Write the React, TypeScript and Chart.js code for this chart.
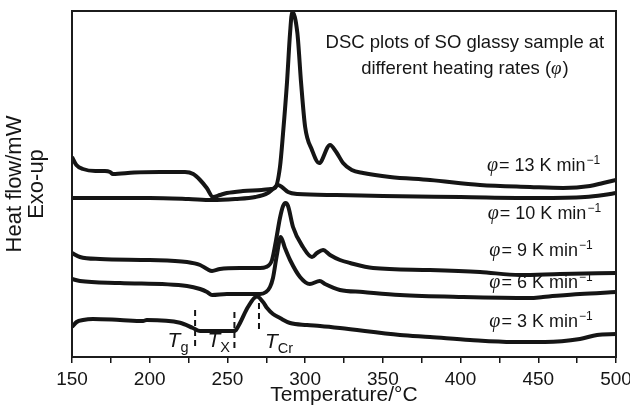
import React, { useEffect, useRef } from "react";
import { Chart, registerables } from "chart.js";

Chart.register(...registerables);

const SANS = "'Liberation Sans', Arial, Helvetica, sans-serif";
const SERIF = "'Liberation Serif', 'Times New Roman', serif";
const INK = "#151515";

// x axis
const xMin = 150;
const xMax = 500;
const xStep = 25;
const xLabelStep = 50;
// y axis (arbitrary heat-flow units, exo up)
const yMin = 0;
const yMax = 346;

// φ = 13 K/min
const t13 = [150, 152.8, 157, 165, 171.2, 174.5, 176.3, 190, 206.6, 222.7, 228, 232.4, 236.7, 240.7, 245.2, 249.6, 260, 272, 278, 280.6, 283.8, 285.8, 288.3, 290.3, 291.7, 295, 297.4, 300, 304.4, 309, 316, 320, 324.4, 330, 337.3, 354.6, 380.4, 412.5, 444.7, 466, 483.3, 491.7, 500];
const hf13 = [200, 192, 188, 186, 186, 185, 183, 184.5, 185, 185, 183, 177, 169, 160, 162, 164, 166, 167, 168, 169, 190, 224, 274, 324, 345, 324, 274, 230, 207, 194, 212, 205, 194, 187, 184, 180, 177, 172, 170, 169, 171, 174, 177];

// φ = 10 K/min
const t10 = [150, 170, 200, 225, 240, 255, 268, 276, 280, 282.6, 285, 289, 295, 320, 350, 400, 450, 480, 492, 500];
const hf10 = [159, 159, 159, 158, 157, 158, 160, 164, 169, 172, 170, 165, 163, 162, 161, 160, 159, 160, 162, 164];

// φ = 9 K/min
const t9 = [150, 155.1, 168, 200, 224, 232.4, 236.9, 240.1, 245.2, 258, 271, 274.8, 278.7, 281.3, 283.8, 285.8, 287.4, 289, 292.2, 298.6, 304.4, 307.6, 311.5, 316, 322.4, 328.9, 343.7, 380.3, 412.5, 438.2, 464, 500];
const hf9 = [104, 100, 98, 97, 95, 92, 88, 86, 88, 89, 89, 90, 97, 117, 139, 151, 154, 151, 130, 110, 100, 104, 107, 102, 97, 94, 89, 87, 85, 82, 83, 84];

// φ = 6 K/min
const t6 = [150, 155.1, 180.9, 224, 232.4, 236.9, 240.1, 249.7, 271, 274.8, 277.4, 279.3, 281.7, 284.3, 287, 290.3, 296.7, 303, 309.4, 312.8, 322.4, 337.2, 361, 401.6, 444.7, 453, 476.8, 500];
const hf6 = [78, 76, 74, 71, 68, 65, 62, 63, 63, 65, 70, 79, 101, 120, 109, 97, 80, 73, 76, 73, 67, 65, 62, 60, 59, 60, 63, 65];

// φ = 3 K/min
const t3 = [150, 153, 157.1, 163.5, 180.9, 195.7, 198.1, 219.5, 227.8, 232.4, 238.8, 253.6, 255.5, 258.1, 263.2, 269, 272.9, 275.5, 279.3, 283.8, 290.3, 301.2, 309.6, 322.4, 361, 380.3, 406.1, 433.7, 454.3, 476.8, 487.8, 500];
const hf3 = [30, 35, 37, 38, 37, 36, 37, 34.3, 29, 26, 26, 26, 27, 34, 50, 60.5, 55, 49, 43, 39, 34, 32, 31, 29, 22, 20, 17, 15, 15, 18, 22, 23];

const rateNames = ["13", "10", "9", "6", "3"];
const rateTemps = [t13, t10, t9, t6, t3];
const rateFlows = [hf13, hf10, hf9, hf6, hf3];
// label anchors (temperature of left edge, heat-flow of baseline)
const rateLabelT = [417, 417.5, 418.5, 418.5, 418.5];
const rateLabelV = [186, 138, 101, 69, 30];

// characteristic temperatures (3 K/min curve)
const markerSubs = ["g", "X", "Cr"];
const markerTemps = [229.2, 254.5, 270.3];
const markerTop = [47, 45, 54];
const markerBottom = [10, 9, 24];
const markerLabelT = [211.5, 237.2, 274.2];
const markerLabelV = [10, 10, 9];

const titleLine1 = "DSC plots of SO glassy sample at";
const titleLine2 = "different heating rates (";
const titleT = 402.8;
const titleV = [309, 283];

type Run = { text: string; font: string; dy?: number; gap?: number };

function drawRuns(ctx: CanvasRenderingContext2D, runs: Run[], x: number, y: number, align: "left" | "center") {
  let total = 0;
  for (const r of runs) {
    ctx.font = r.font;
    total += (r.gap || 0) + ctx.measureText(r.text).width;
  }
  let cx = align === "center" ? x - total / 2 : x;
  ctx.textAlign = "left";
  ctx.textBaseline = "alphabetic";
  for (const r of runs) {
    ctx.font = r.font;
    cx += r.gap || 0;
    ctx.fillText(r.text, cx, y + (r.dy || 0));
    cx += ctx.measureText(r.text).width;
  }
}

const overlay = {
  id: "overlay",
  afterDatasetsDraw(chart: any) {
    const { ctx, chartArea: a, scales } = chart;
    const x = scales.x;
    const y = scales.y;
    ctx.save();
    ctx.strokeStyle = "#1c1c1c";
    ctx.lineWidth = 2;
    ctx.strokeRect(a.left, a.top, a.right - a.left, a.bottom - a.top);

    ctx.fillStyle = INK;
    drawRuns(ctx, [{ text: titleLine1, font: `18.5px ${SANS}` }], x.getPixelForValue(titleT), y.getPixelForValue(titleV[0]), "center");
    drawRuns(
      ctx,
      [
        { text: titleLine2, font: `18.5px ${SANS}` },
        { text: "φ", font: `italic 19px ${SERIF}` },
        { text: ")", font: `18.5px ${SANS}`, gap: 1 },
      ],
      x.getPixelForValue(titleT),
      y.getPixelForValue(titleV[1]),
      "center"
    );

    for (let i = 0; i < rateNames.length; i++) {
      drawRuns(
        ctx,
        [
          { text: "φ", font: `italic 20px ${SERIF}` },
          { text: `= ${rateNames[i]} K min`, font: `18px ${SANS}`, gap: 1 },
          { text: "−1", font: `12px ${SANS}`, dy: -7, gap: 1 },
        ],
        x.getPixelForValue(rateLabelT[i]),
        y.getPixelForValue(rateLabelV[i]),
        "left"
      );
    }

    ctx.setLineDash([6, 4]);
    ctx.lineWidth = 2;
    ctx.strokeStyle = INK;
    for (let i = 0; i < markerTemps.length; i++) {
      const px = x.getPixelForValue(markerTemps[i]);
      ctx.beginPath();
      ctx.moveTo(px, y.getPixelForValue(markerTop[i]));
      ctx.lineTo(px, y.getPixelForValue(markerBottom[i]));
      ctx.stroke();
    }
    ctx.setLineDash([]);
    for (let i = 0; i < markerSubs.length; i++) {
      drawRuns(
        ctx,
        [
          { text: "T", font: `italic 21px ${SANS}` },
          { text: markerSubs[i], font: `14.5px ${SANS}`, dy: 5, gap: 0 },
        ],
        x.getPixelForValue(markerLabelT[i]),
        y.getPixelForValue(markerLabelV[i]),
        "left"
      );
    }
    ctx.restore();
  },
};

export default function App() {
  const ref = useRef<HTMLCanvasElement | null>(null);
  useEffect(() => {
    document.body.style.margin = "0";
    if (!ref.current) return;
    const datasets = rateNames.map((name, i) => ({
      label: `${name} K/min`,
      data: rateTemps[i].map((t, j) => ({ x: t, y: rateFlows[i][j] })),
      borderColor: INK,
      borderWidth: 4,
      pointRadius: 0,
      fill: false,
      cubicInterpolationMode: "monotone" as const,
    }));
    const chart = new Chart(ref.current, {
      type: "line",
      data: { datasets },
      options: {
        animation: false,
        responsive: false,
        layout: { padding: { top: 11, right: 14, left: 0, bottom: 0 } },
        plugins: { legend: { display: false }, tooltip: { enabled: false } },
        scales: {
          x: {
            type: "linear",
            min: xMin,
            max: xMax,
            ticks: {
              stepSize: xStep,
              autoSkip: false,
              maxRotation: 0,
              padding: 5,
              color: INK,
              font: { family: SANS, size: 19 },
              callback: (v: any) => (Number(v) % xLabelStep === 0 ? String(v) : ""),
            },
            grid: { display: true, drawOnChartArea: false, drawTicks: true, tickLength: 6, color: INK, lineWidth: 1.5 },
            border: { display: false },
            title: { display: true, text: "Temperature/°C", color: INK, font: { family: SANS, size: 21 }, padding: { top: 0, bottom: 6 } },
            afterFit: (s: any) => {
              s.height = 57;
              s.paddingLeft = 0;
              s.paddingRight = 0;
            },
          },
          y: {
            type: "linear",
            min: yMin,
            max: yMax,
            ticks: { display: false },
            grid: { display: false },
            border: { display: false },
            title: { display: true, text: ["Heat flow/mW", "Exo-up"], color: INK, font: { family: SANS, size: 22, lineHeight: 1.0 }, padding: { top: 4, bottom: 0 } },
            afterFit: (s: any) => {
              s.width = 72;
            },
          },
        },
      },
      plugins: [overlay],
    });
    return () => chart.destroy();
  }, []);
  return <canvas ref={ref} width={630} height={414} style={{ display: "block" }} />;
}
